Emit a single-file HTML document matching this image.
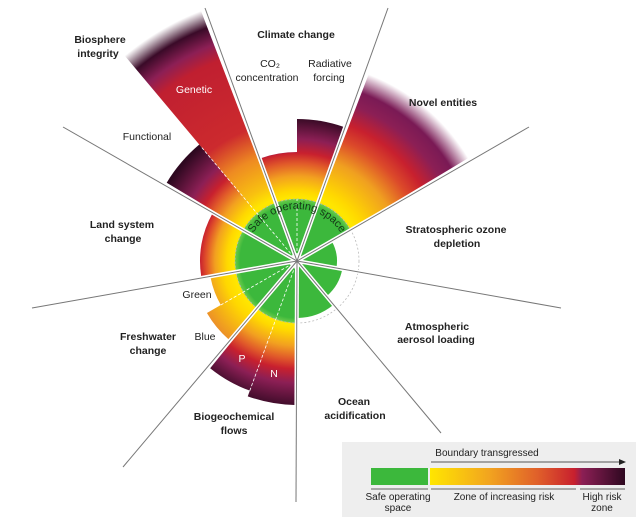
<!DOCTYPE html>
<html><head><meta charset="utf-8">
<style>
html,body{margin:0;padding:0;background:#fff;}
svg{display:block;font-family:"Liberation Sans",sans-serif;}
.b{font-weight:bold;font-size:10.5px;fill:#222;text-anchor:middle;}
.n{font-size:10.5px;fill:#222;text-anchor:middle;}
.w{font-size:10.5px;fill:#fff;text-anchor:middle;}
.l{font-size:10px;fill:#222;text-anchor:middle;}
</style></head><body>
<svg id="s" width="636" height="517" viewBox="0 0 636 517" xmlns="http://www.w3.org/2000/svg">
<defs id="d">
<linearGradient id="lg" x1="0" x2="1" y1="0" y2="0">
<stop offset="0" stop-color="#ffe600"/><stop offset="0.3" stop-color="#f2a51f"/><stop offset="0.55" stop-color="#e0602a"/><stop offset="0.74" stop-color="#c8202e"/><stop offset="0.78" stop-color="#8c1f55"/><stop offset="1" stop-color="#2e0820"/>
</linearGradient>
<path id="arc" d="M 245 261 A 52 52 0 0 1 349 261" fill="none"/>
</defs>
<g id="wedges"></g>
<g id="greens"></g>
<circle cx="297" cy="261" r="62" fill="none" stroke="#bbb" stroke-width="0.8" stroke-dasharray="2,2"/>
<g id="lines"></g>
<text font-size="11" fill="#173a17"><textPath href="#arc" startOffset="50%" text-anchor="middle">Safe operating space</textPath></text>

<text class="b" x="296" y="38">Climate change</text>
<text class="n" x="270" y="67">CO₂</text>
<text class="n" x="267" y="81">concentration</text>
<text class="n" x="330" y="67">Radiative</text>
<text class="n" x="329" y="81">forcing</text>
<text class="b" x="100" y="43">Biosphere</text>
<text class="b" x="98" y="57">integrity</text>
<text class="w" x="194" y="93">Genetic</text>
<text class="n" x="147" y="140">Functional</text>
<text class="b" x="443" y="106">Novel entities</text>
<text class="b" x="122" y="228">Land system</text>
<text class="b" x="123" y="242">change</text>
<text class="b" x="456" y="233">Stratospheric ozone</text>
<text class="b" x="457" y="247">depletion</text>
<text class="n" x="197" y="298">Green</text>
<text class="n" x="205" y="340">Blue</text>
<text class="b" x="148" y="340">Freshwater</text>
<text class="b" x="148" y="354">change</text>
<text class="w" x="242" y="362">P</text>
<text class="w" x="274" y="377">N</text>
<text class="b" x="437" y="330">Atmospheric</text>
<text class="b" x="436" y="343">aerosol loading</text>
<text class="b" x="234" y="420">Biogeochemical</text>
<text class="b" x="234" y="434">flows</text>
<text class="b" x="354" y="405">Ocean</text>
<text class="b" x="355" y="419">acidification</text>

<rect x="342" y="442" width="294" height="75" fill="#eeeeee"/>
<text class="l" x="487" y="456">Boundary transgressed</text>
<line x1="431" y1="462" x2="620" y2="462" stroke="#222" stroke-width="0.8"/>
<polygon points="626,462 619,459 619,465" fill="#222"/>
<rect x="371" y="468" width="57" height="17" fill="#3cb83c"/>
<rect x="430" y="468" width="195" height="17" fill="url(#lg)"/>
<line x1="371" y1="489" x2="428" y2="489" stroke="#333" stroke-width="0.8"/>
<line x1="431" y1="489" x2="576" y2="489" stroke="#333" stroke-width="0.8"/>
<line x1="580" y1="489" x2="625" y2="489" stroke="#333" stroke-width="0.8"/>
<text class="l" x="398" y="500">Safe operating</text>
<text class="l" x="398" y="511">space</text>
<text class="l" x="504" y="500">Zone of increasing risk</text>
<text class="l" x="602" y="500">High risk</text>
<text class="l" x="602" y="511">zone</text>
</svg>
<script>
var NS="http://www.w3.org/2000/svg",cx=297,cy=261;
function pt(r,a){a=a*Math.PI/180;return [cx+r*Math.sin(a),cy-r*Math.cos(a)];}
function wedge(a1,a2,r){var p=pt(r,a1),q=pt(r,a2);return "M"+cx+" "+cy+" L"+p[0].toFixed(2)+" "+p[1].toFixed(2)+" A"+r+" "+r+" 0 0 1 "+q[0].toFixed(2)+" "+q[1].toFixed(2)+" Z";}
function el(t,at,par){var e=document.createElementNS(NS,t);for(var k in at)e.setAttribute(k,at[k]);par.appendChild(e);return e;}
var defs=document.getElementById("d"),W=document.getElementById("wedges"),G=document.getElementById("greens"),L=document.getElementById("lines");
var gi=0;
function grad(stops){var R=stops[stops.length-1][0];var id="g"+(gi++);var g=el("radialGradient",{id:id,gradientUnits:"userSpaceOnUse",cx:cx,cy:cy,r:R},defs);
stops.forEach(function(s){el("stop",{offset:(s[0]/R).toFixed(4),"stop-color":s[1],"stop-opacity":s.length>2?s[2]:1},g);});return id;}
var std=[[0,"#ffe600"],[64,"#ffe600"],[70,"#ffd800"],[85,"#f2a020"],[98,"#e0582a"],[108,"#c8202e"],[122,"#8c1f55"],[150,"#2e0820"]];
function cut(R){var s=[];for(var i=0;i<std.length;i++){if(std[i][0]<R)s.push(std[i]);}s.push([R,interp(R)]);return s;}
function interp(R){for(var i=1;i<std.length;i++){if(std[i][0]>=R){return std[i][1];}}return std[std.length-1][1];}
var W1=[
[-19,0,109,cut(110)],
[0,19,142,cut(145)],
[21,59,200,[[0,"#ffe600"],[66,"#ffe600"],[75,"#ffd800"],[105,"#f0a020"],[128,"#dc4a2a"],[145,"#c8202e"],[165,"#8c1f55"],[180,"#7a1a55"],[200,"#ffffff",1]]],
[181,200,144,cut(150)],
[200,219,138,cut(146)],
[221,240,104,[[0,"#ffe600"],[64,"#ffe600"],[74,"#ffd800"],[104,"#ec9028"]]],
[240,259,88,[[0,"#ffe600"],[64,"#ffe600"],[74,"#ffd800"],[88,"#f2a81e"]]],
[261,299,97,[[0,"#ffe600"],[64,"#ffe600"],[70,"#ffd800"],[82,"#f2a020"],[91,"#e0502a"],[97,"#c8202e"]]],
[301,320,152,cut(150)],
[320,339,268,[[0,"#ffe600"],[66,"#ffe600"],[80,"#f8c010"],[110,"#ee8a22"],[140,"#cc2a2e"],[215,"#c01f30"],[232,"#8c1f55"],[250,"#3a0a28"],[268,"#ffffff"]]]
];
W1.forEach(function(w){el("path",{d:wedge(w[0],w[1],w[2]),fill:"url(#"+grad(w[3])+")"},W);});
var gr=[[-19,19,62],[21,59,62],[61,99,40],[101,139,46],[141,179,57],[181,219,62],[221,259,62],[261,299,62],[301,339,62]];
var gg=grad([[0,"#3cb83c"],[57,"#3cb83c"],[62,"#6ccc4a"]]);
gr.forEach(function(w){el("path",{d:wedge(w[0],w[1],w[2]),fill:w[2]>=62?"url(#"+gg+")":"#3cb83c"},G);});
[0,200,240,320].forEach(function(a){var r=a==320?150:(a==200?140:(a==240?88:62));var p=pt(r,a);el("line",{x1:cx,y1:cy,x2:p[0],y2:p[1],stroke:"#fff","stroke-width":0.8,"stroke-dasharray":"3,2"},L);});
var ends=[[205,8],[388,8],[529,127],[561,308],[441,433],[296,502],[123,467],[32,308],[63,127]];
ends.forEach(function(e){el("line",{x1:cx,y1:cy,x2:e[0],y2:e[1],stroke:"#fff","stroke-width":4},L);});
ends.forEach(function(e){el("line",{x1:cx,y1:cy,x2:e[0],y2:e[1],stroke:"#777","stroke-width":1},L);});
</script>
</body></html>
